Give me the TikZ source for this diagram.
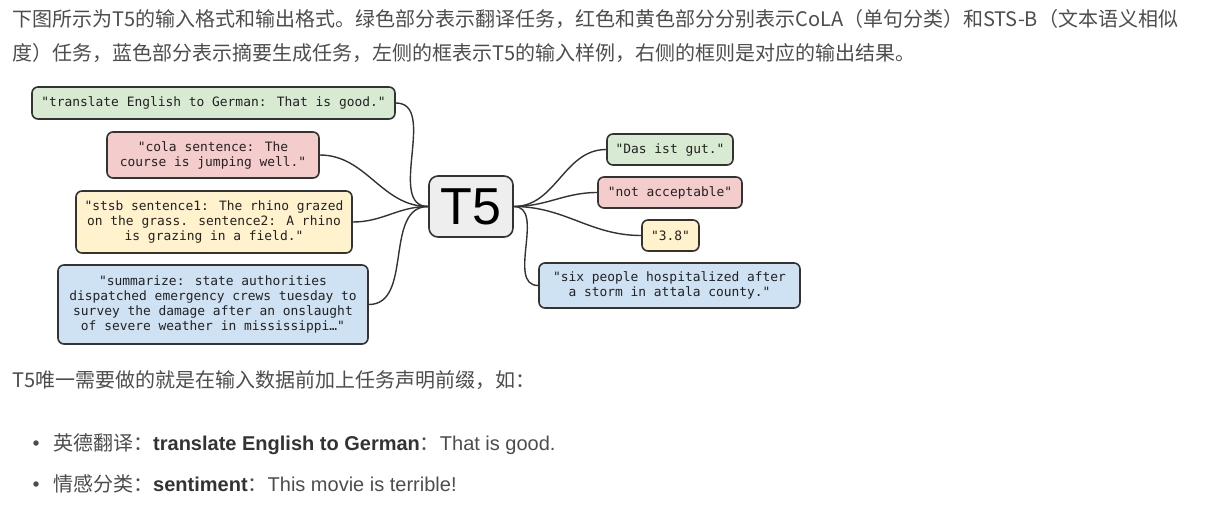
\documentclass[tikz,border=0pt]{standalone}
\usepackage{fontspec}
\setmainfont{Liberation Sans}
\newfontfamily\cjk{Noto Sans CJK SC}
\newfontfamily\mono{DejaVu Sans Mono}
\definecolor{txt}{HTML}{4D4D4D}
\definecolor{txtb}{HTML}{333333}
\definecolor{boxtxt}{HTML}{222222}
\definecolor{edge}{HTML}{333333}
\definecolor{gfill}{HTML}{D9EAD3}
\definecolor{rfill}{HTML}{F4CCCC}
\definecolor{yfill}{HTML}{FFF2CC}
\definecolor{bfill}{HTML}{CFE2F3}
\definecolor{tfill}{HTML}{EEEEEE}
\begin{document}
\begin{tikzpicture}[x=1pt, y=-1pt,
  para/.style={anchor=base west, inner sep=0pt, text=txt, font=\cjk\fontsize{20}{26}\selectfont},
  box/.style={draw=edge, line width=1.6pt, rounded corners=6pt, align=center, inner sep=0pt, text=boxtxt, font=\mono\fontsize{12.9}{15}\selectfont},
  bulletdot/.style={circle, fill=txt, inner sep=0pt, minimum size=5.5pt},
  link/.style={line width=1.4pt, draw=edge, out=0, in=180}]
\fill[white] (0,0) rectangle (1209,512);
\useasboundingbox (0,0) rectangle (1209,512);
% text above the figure
\node[para] (p1) at (12,26) {下图所示为T5的输入格式和输出格式。绿色部分表示翻译任务，红色和黄色部分分别表示CoLA（单句分类）和STS-B（文本语义相似};
\node[para] (p2) at (12,60) {度）任务，蓝色部分表示摘要生成任务，左侧的框表示T5的输入样例，右侧的框则是对应的输出结果。};
% inputs
\node[box, fill=gfill, minimum width=363pt, minimum height=32pt] (inEn) at (213.5,103) {"translate English to German: That is good."};
\node[box, fill=rfill, minimum width=212pt, minimum height=46pt] (inCola) at (213,155) {"cola sentence: The\\course is jumping well."};
\node[box, fill=yfill, minimum width=276pt, minimum height=62pt] (inStsb) at (214,222) {"stsb sentence1: The rhino grazed\\on the grass. sentence2: A rhino\\is grazing in a field."};
\node[box, fill=bfill, minimum width=310pt, minimum height=79pt] (inSum) at (213,304.5) {"summarize: state authorities\\dispatched emergency crews tuesday to\\survey the damage after an onslaught\\of severe weather in mississippi…"};
% model
\node[box, fill=tfill, minimum width=84pt, minimum height=61pt, rounded corners=9pt, text=black, font=\rmfamily\fontsize{52}{52}\selectfont] (t5) at (471,206.5) {T5};
% outputs
\node[box, fill=gfill, minimum width=126pt, minimum height=31pt] (outEn) at (670,149.5) {"Das ist gut."};
\node[box, fill=rfill, minimum width=144pt, minimum height=31pt] (outCola) at (670,192.5) {"not acceptable"};
\node[box, fill=yfill, minimum width=57pt, minimum height=31pt] (outStsb) at (670.5,235.5) {"3.8"};
\node[box, fill=bfill, minimum width=261pt, minimum height=45pt] (outSum) at (669.5,285.5) {"six people hospitalized after\\a storm in attala county."};
\foreach \src in {inEn, inCola, inStsb, inSum}
  \draw[link] (\src.east) to (t5.west);
\foreach \dst in {outEn, outCola, outStsb, outSum}
  \draw[link] (t5.east) to (\dst.west);
% text below the figure
\node[para] (p3) at (12,387) {T5唯一需要做的就是在输入数据前加上任务声明前缀，如：};
\node[bulletdot] (b1) at (36,443) {};
\node[para] (l1) at (53,450) {英德翻译：{\rmfamily\bfseries\color{txtb}translate English to German}：{\rmfamily That is good.}};
\node[bulletdot] (b2) at (36,484) {};
\node[para] (l2) at (53,491) {情感分类：{\rmfamily\bfseries\color{txtb}sentiment}：{\rmfamily This movie is terrible!}};
\end{tikzpicture}
\end{document}
